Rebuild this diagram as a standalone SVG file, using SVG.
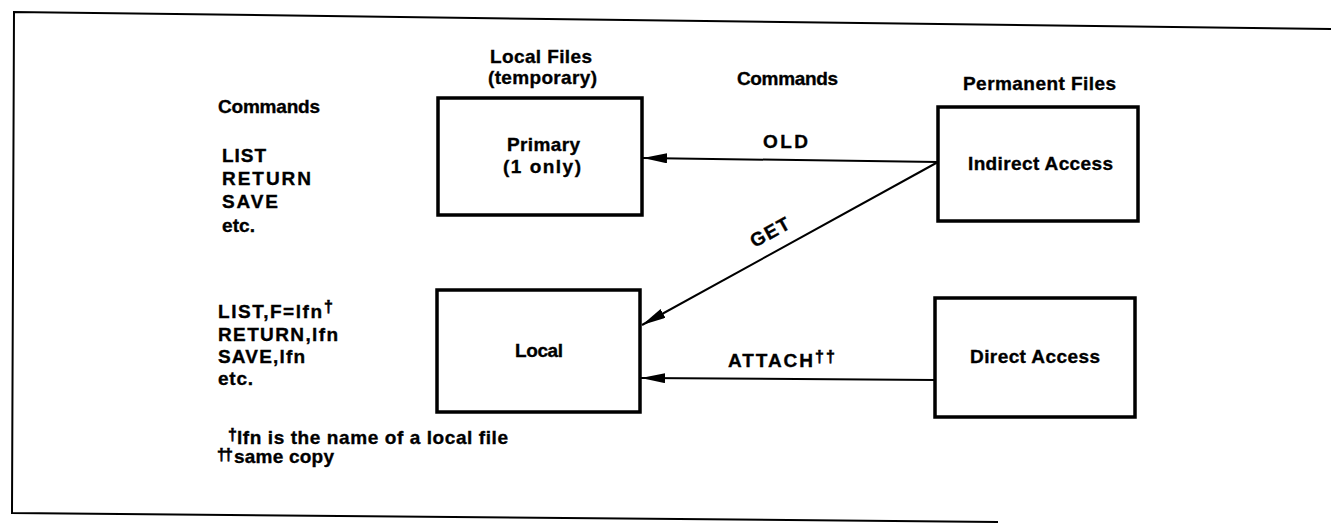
<svg xmlns="http://www.w3.org/2000/svg" width="1331" height="523" viewBox="0 0 1331 523">
  <style>
    text { font-family: "Liberation Sans", Arial, sans-serif; font-weight: bold; font-size: 19px; fill: #000; stroke: #000; stroke-width: 0.35; }
    .dag { font-size: 16px; stroke-width: 0.6; }
    .box { fill: #fff; stroke: #000; stroke-width: 3.5; }
    .link { fill: none; stroke: #000; stroke-width: 2; }
    .frame { fill: none; stroke: #000; stroke-width: 2; }
  </style>
  <defs>
    <marker id="arrow" markerUnits="userSpaceOnUse" markerWidth="26" markerHeight="12" refX="24" refY="5" orient="auto">
      <path d="M0,0 L24,5 L0,10 Z" fill="#000"/>
    </marker>
  </defs>

  <rect width="1331" height="523" fill="#fff"/>

  <!-- page frame (open on the right) -->
  <path class="frame" d="M1331,29 L14,12 L12,513 L998,522"/>

  <!-- left column: command examples -->
  <g id="cmd-primary">
    <text x="218" y="113" textLength="102" lengthAdjust="spacing">Commands</text>
    <text x="222" y="162" textLength="44" lengthAdjust="spacing">LIST</text>
    <text x="222" y="185" textLength="89" lengthAdjust="spacing">RETURN</text>
    <text x="222" y="208" textLength="56" lengthAdjust="spacing">SAVE</text>
    <text x="222" y="232" textLength="33" lengthAdjust="spacing">etc.</text>
  </g>
  <g id="cmd-local">
    <text x="218" y="318" textLength="104" lengthAdjust="spacing">LIST,F=lfn</text>
    <text class="dag" x="324" y="312">†</text>
    <text x="218" y="341" textLength="120" lengthAdjust="spacing">RETURN,lfn</text>
    <text x="218" y="363" textLength="87" lengthAdjust="spacing">SAVE,lfn</text>
    <text x="218" y="385" textLength="35" lengthAdjust="spacing">etc.</text>
  </g>
  <g id="footnotes">
    <text class="dag" x="228" y="440">†</text>
    <text x="237" y="444" textLength="271" lengthAdjust="spacing">lfn is the name of a local file</text>
    <text class="dag" x="217" y="460" textLength="16" lengthAdjust="spacing">††</text>
    <text x="234" y="463" textLength="100" lengthAdjust="spacing">same copy</text>
  </g>

  <!-- column headings -->
  <g id="hdr-local">
    <text x="490" y="63" textLength="102" lengthAdjust="spacing">Local Files</text>
    <text x="488" y="84" textLength="109" lengthAdjust="spacing">(temporary)</text>
  </g>
  <g id="hdr-commands">
    <text x="737" y="85" textLength="101" lengthAdjust="spacing">Commands</text>
  </g>
  <g id="hdr-permanent">
    <text x="963" y="90" textLength="153" lengthAdjust="spacing">Permanent Files</text>
  </g>

  <!-- connectors -->
  <g id="connectors">
    <line class="link" x1="938" y1="162" x2="643" y2="158" marker-end="url(#arrow)"/>
    <line class="link" x1="938" y1="162" x2="642" y2="325" marker-end="url(#arrow)"/>
    <line class="link" x1="935" y1="380" x2="641" y2="378" marker-end="url(#arrow)"/>
    <text x="763" y="148" textLength="45" lengthAdjust="spacing">OLD</text>
    <text transform="translate(773,238) rotate(-28.7)" text-anchor="middle" textLength="42" lengthAdjust="spacing">GET</text>
    <text x="728" y="367" textLength="85" lengthAdjust="spacing">ATTACH</text>
    <text class="dag" x="815" y="362" textLength="20" lengthAdjust="spacing">††</text>
  </g>

  <!-- nodes -->
  <g id="primary">
    <rect class="box" x="438" y="98" width="204" height="117"/>
    <text x="507" y="151" textLength="73" lengthAdjust="spacing">Primary</text>
    <text x="503" y="173" textLength="78" lengthAdjust="spacing">(1 only)</text>
  </g>
  <g id="local">
    <rect class="box" x="437" y="290" width="203" height="122"/>
    <text x="515" y="357" textLength="48" lengthAdjust="spacing">Local</text>
  </g>
  <g id="indirect">
    <rect class="box" x="938" y="107" width="200" height="114"/>
    <text x="968" y="170" textLength="145" lengthAdjust="spacing">Indirect Access</text>
  </g>
  <g id="direct">
    <rect class="box" x="935" y="298" width="200" height="119"/>
    <text x="970" y="363" textLength="130" lengthAdjust="spacing">Direct Access</text>
  </g>
</svg>
